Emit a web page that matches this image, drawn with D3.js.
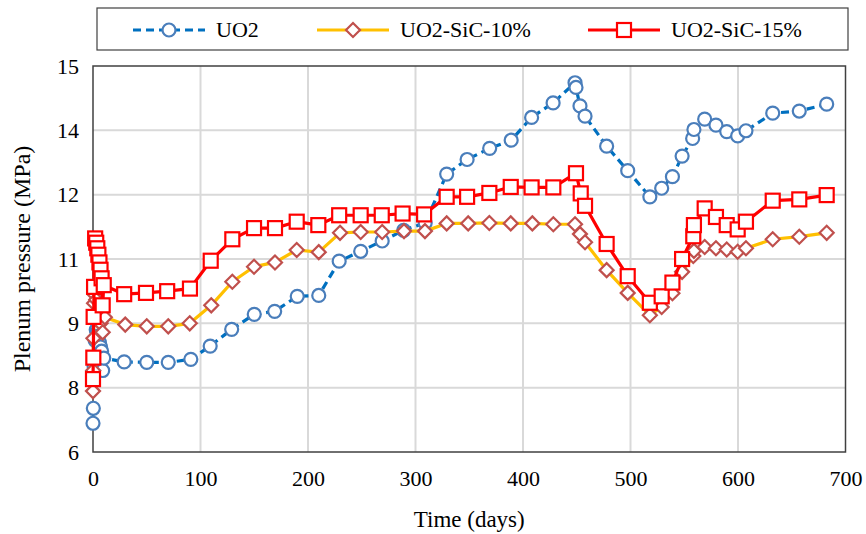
<!DOCTYPE html>
<html><head><meta charset="utf-8">
<script src="https://cdn.jsdelivr.net/npm/d3@7"></script>
<style>body{margin:0;background:#fff}svg{display:block}</style>
</head><body>
<script>
const seriesNames = ["UO2", "UO2-SiC-10%", "UO2-SiC-15%"];
const xTicks = [0, 100, 200, 300, 400, 500, 600, 700];
const yTicks = [6, 7.5, 9, 10.5, 12, 13.5, 15];
const yTickLabels = ["6", "8", "9", "11", "12", "14", "15"];

const uo2Days = [0, 0.3, 1, 2, 3, 4, 5, 6, 7, 8, 9, 10, 29, 50, 70, 91, 109, 129, 150, 169, 190, 210, 229, 249, 269, 289, 309, 329, 348, 369, 389, 408, 428, 448.4, 449.3, 453, 457.7, 477.8, 497.4, 518, 529, 539, 548, 557.8, 559, 569, 579.5, 589.5, 599.7, 607.4, 632.3, 657, 682.5];
const uo2Values = [6.67, 7.02, 8.0, 8.6, 8.85, 8.8, 8.7, 8.55, 8.45, 8.35, 7.9, 8.19, 8.10, 8.09, 8.09, 8.16, 8.47, 8.86, 9.21, 9.28, 9.63, 9.65, 10.45, 10.68, 10.92, 11.17, 11.34, 12.48, 12.82, 13.08, 13.27, 13.80, 14.14, 14.61, 14.5, 14.07, 13.83, 13.13, 12.56, 11.95, 12.15, 12.42, 12.90, 13.31, 13.52, 13.76, 13.62, 13.47, 13.37, 13.49, 13.90, 13.95, 14.11];

const sic10Days = [0, 0.2, 0.4, 1, 2, 3, 5, 7, 9, 11, 30, 50, 70, 90, 110, 129.6, 149.8, 169.3, 189.5, 210, 229.8, 249, 269, 289.3, 308.8, 329, 349, 368.7, 388.6, 408.7, 428.2, 448.4, 453, 457.7, 477.8, 497.4, 518, 529, 539, 548, 558.4, 559, 569, 579.5, 589.5, 599.7, 607.4, 632.3, 657, 682.5];
const sic10Values = [7.42, 7.9, 8.65, 9.47, 9.66, 9.55, 9.3, 9.0, 8.79, 9.14, 8.97, 8.93, 8.93, 9.0, 9.42, 9.97, 10.32, 10.42, 10.71, 10.66, 11.11, 11.13, 11.13, 11.15, 11.15, 11.33, 11.33, 11.34, 11.33, 11.33, 11.31, 11.31, 11.08, 10.89, 10.24, 9.71, 9.19, 9.38, 9.70, 10.2, 10.57, 10.69, 10.78, 10.75, 10.72, 10.67, 10.75, 10.96, 11.02, 11.11];

const sic15Days = [0, 0.3, 0.6, 1, 2, 3, 4, 5, 6, 7, 8, 9, 10, 29, 49.3, 69, 90.2, 109.5, 129.6, 149.8, 169.3, 189.5, 209.6, 229, 249, 268.6, 288, 308, 329, 348, 368.7, 388.6, 408, 428.2, 449.3, 453.7, 457.7, 477.8, 497.4, 518, 529, 539, 548, 558.4, 559, 569, 579.5, 589.5, 599.7, 607.4, 632.3, 657, 682.5];
const sic15Values = [7.7, 8.2, 9.15, 9.85, 10.98, 10.88, 10.75, 10.6, 10.42, 10.25, 10.05, 9.42, 9.89, 9.68, 9.71, 9.75, 9.81, 10.46, 10.96, 11.22, 11.22, 11.37, 11.29, 11.52, 11.52, 11.52, 11.56, 11.54, 11.95, 11.95, 12.04, 12.18, 12.17, 12.17, 12.50, 12.03, 11.74, 10.85, 10.10, 9.48, 9.63, 9.95, 10.50, 11.03, 11.29, 11.68, 11.48, 11.29, 11.19, 11.37, 11.86, 11.89, 11.99];

const W = 866, H = 534;
const svg = d3.select("body").append("svg").attr("width", W).attr("height", H);
const font = '"Liberation Serif", "Times New Roman", Times, "Nimbus Roman", "Nimbus Roman No9 L", FreeSerif, Tinos, "Noto Serif", "DejaVu Serif", Georgia, serif';
const x = d3.scaleLinear().domain([0, 700]).range([93, 845.5]);
const y = d3.scaleLinear().domain([6, 15]).range([452, 66]);

// gridlines
svg.append("g").selectAll("line").data(xTicks.slice(1, -1)).join("line")
  .attr("x1", d => x(d)).attr("x2", d => x(d)).attr("y1", y(6)).attr("y2", y(15))
  .attr("stroke", "#d9d9d9").attr("stroke-width", 2);
svg.append("g").selectAll("line").data(yTicks.slice(1, -1)).join("line")
  .attr("y1", d => y(d)).attr("y2", d => y(d)).attr("x1", x(0)).attr("x2", x(700))
  .attr("stroke", "#d9d9d9").attr("stroke-width", 2);

// plot border
svg.append("rect").attr("x", x(0)).attr("y", y(15)).attr("width", x(700) - x(0)).attr("height", y(6) - y(15))
  .attr("fill", "none").attr("stroke", "#404040").attr("stroke-width", 1.5);

// axes
const xAxis = svg.append("g").attr("transform", `translate(0,${y(6)})`)
  .call(d3.axisBottom(x).tickValues(xTicks).tickSize(0).tickPadding(18));
xAxis.attr("font-family", font).attr("font-size", 22);
xAxis.select(".domain").remove();
xAxis.selectAll("text").attr("font-family", font).attr("font-size", 22).attr("fill", "#000");
const yAxis = svg.append("g").attr("transform", `translate(${x(0)},0)`)
  .call(d3.axisLeft(y).tickValues(yTicks).tickSize(0).tickPadding(14).tickFormat((d, i) => yTickLabels[i]));
yAxis.attr("font-family", font).attr("font-size", 22);
yAxis.select(".domain").remove();
yAxis.selectAll("text").attr("font-family", font).attr("font-size", 22).attr("fill", "#000");

svg.append("text").attr("x", (x(0) + x(700)) / 2).attr("y", 527).attr("text-anchor", "middle")
  .attr("font-family", font).attr("font-size", 23).text("Time (days)");
svg.append("text").attr("transform", `translate(30,${(y(6) + y(15)) / 2}) rotate(-90)`).attr("text-anchor", "middle")
  .attr("font-family", font).attr("font-size", 24).text("Plenum pressure (MPa)");

const styles = [
  {days: uo2Days, vals: uo2Values, line: "#0070C0", dash: "8,5", mstroke: "#4A7EBB", shape: "circle"},
  {days: sic10Days, vals: sic10Values, line: "#FFC000", dash: null, mstroke: "#C0504D", shape: "diamond"},
  {days: sic15Days, vals: sic15Values, line: "#FF0000", dash: null, mstroke: "#FF0000", shape: "square"}
];

function marker(g, shape, cx, cy, stroke) {
  if (shape === "circle") {
    g.append("circle").attr("cx", cx).attr("cy", cy).attr("r", 6.5)
      .attr("fill", "#fff").attr("stroke", stroke).attr("stroke-width", 2.2);
  } else if (shape === "diamond") {
    const s = 7;
    g.append("path").attr("d", `M${cx},${cy - s}L${cx + s},${cy}L${cx},${cy + s}L${cx - s},${cy}Z`)
      .attr("fill", "#fff").attr("stroke", stroke).attr("stroke-width", 2.2);
  } else {
    const s = 7;
    g.append("rect").attr("x", cx - s).attr("y", cy - s).attr("width", 2 * s).attr("height", 2 * s)
      .attr("fill", "#fff").attr("stroke", stroke).attr("stroke-width", 2.2);
  }
}

styles.forEach(st => {
  const pts = st.days.map((d, i) => [d, st.vals[i]]);
  const g = svg.append("g");
  g.append("path").datum(pts)
    .attr("d", d3.line().x(d => x(d[0])).y(d => y(d[1])))
    .attr("fill", "none").attr("stroke", st.line).attr("stroke-width", 3.2)
    .attr("stroke-dasharray", st.dash).attr("stroke-linejoin", "round");
  pts.forEach(p => marker(g, st.shape, x(p[0]), y(p[1]), st.mstroke));
});

// legend
svg.append("rect").attr("x", 97).attr("y", 8).attr("width", 751).attr("height", 42)
  .attr("fill", "#fff").attr("stroke", "#404040").attr("stroke-width", 1.2);
const legX = [133, 317, 588];
styles.forEach((st, i) => {
  const lg = svg.append("g");
  lg.append("line").attr("x1", legX[i]).attr("x2", legX[i] + 72).attr("y1", 30).attr("y2", 30)
    .attr("stroke", st.line).attr("stroke-width", 3.2).attr("stroke-dasharray", st.dash);
  marker(lg, st.shape, legX[i] + 36, 30, st.mstroke);
  lg.append("text").attr("x", legX[i] + 83).attr("y", 37).attr("font-family", font).attr("font-size", 22)
    .text(seriesNames[i]);
});
</script>
</body></html>
